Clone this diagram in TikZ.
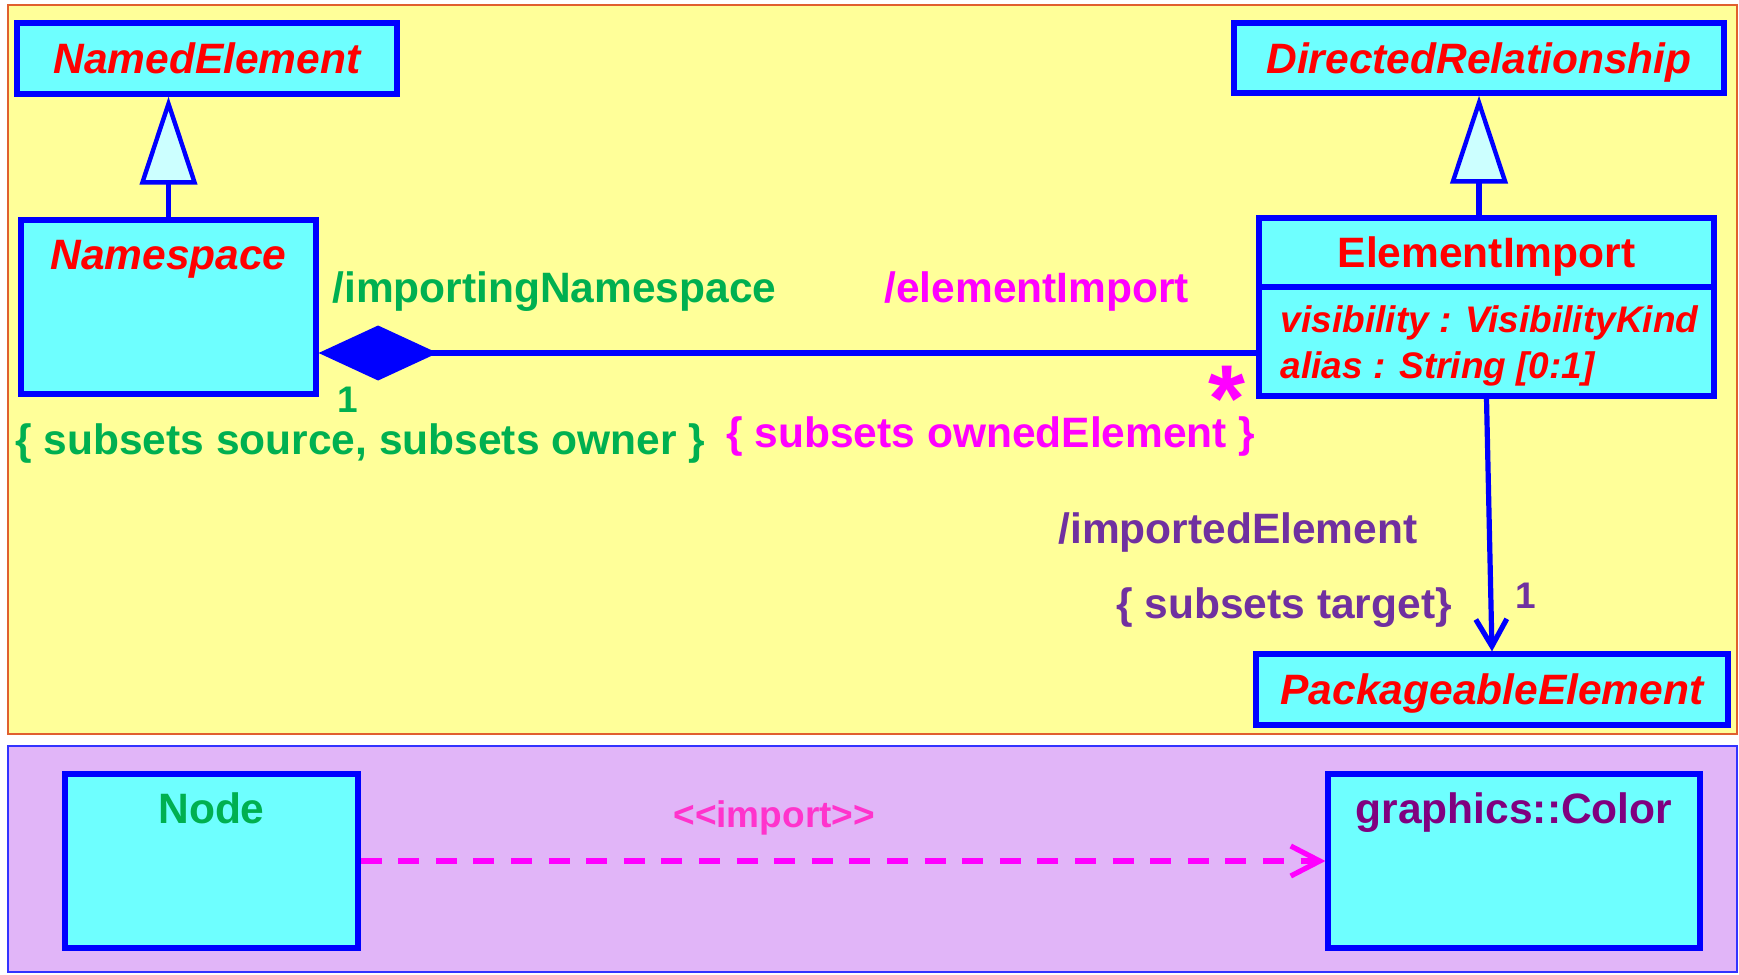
\documentclass[tikz,border=0pt]{standalone}
\usepackage{fontspec}
\setmainfont{Liberation Sans}
\usepackage{tikz}
\usetikzlibrary{
  arrows.meta,
  calc
}
\definecolor{clsfill}{HTML}{6EFFFF}
\definecolor{clsline}{HTML}{0000FF}
\definecolor{trifill}{HTML}{CCFFFF}
\definecolor{pkgyellow}{HTML}{FFFF99}
\definecolor{pkgedge}{HTML}{E0602E}
\definecolor{pkglilac}{HTML}{E1B5F8}
\definecolor{lilacedge}{HTML}{3333FF}
\definecolor{namered}{HTML}{FF0000}
\definecolor{rolegreen}{HTML}{00B050}
\definecolor{rolemagenta}{HTML}{FF00FF}
\definecolor{rolepurple}{HTML}{7030A0}
\definecolor{stereopink}{HTML}{FF33CC}
\definecolor{extpurple}{HTML}{800080}
\newcommand{\bigfont}{\fontsize{21.25}{25}\selectfont\bfseries}
\newcommand{\smallfont}{\fontsize{18.5}{23}\selectfont\bfseries}
\newcommand{\starfont}{\fontsize{47.5}{50}\selectfont\bfseries}
\tikzset{
  clsbox/.style={
    rectangle, draw=clsline, fill=clsfill, line width=2.6pt,
    inner sep=0pt, font=\bigfont, text=namered,
    text height=15.3pt, text depth=0pt
  },
  clstitle/.style={
    anchor=base, inner sep=0pt, font=\bigfont, text=namered
  },
  attr/.style={
    anchor=base west, inner sep=0pt, font=\smallfont\itshape, text=namered
  },
  rolelabel/.style={
    anchor=base west, inner sep=0pt, font=\bigfont, text=#1
  },
  multlabel/.style={
    anchor=base west, inner sep=0pt, font=\smallfont, text=#1
  },
  clsedge/.style={
    line width=2.6pt, draw=clsline
  },
  genarrow/.style={
    clsedge, -{Triangle[fill=trifill, length=44pt, width=28.5pt, line width=2.2pt]}
  },
  compline/.style={
    clsedge, {Diamond[length=59.5pt, width=27.5pt]}-
  },
  navarrow/.style={
    clsedge, -{Straight Barb[length=13.5pt, width=15.5pt]}
  },
  importarrow/.style={
    line width=2.6pt, draw=rolemagenta, dash pattern=on 10.5pt off 8.3pt,
    -{Straight Barb[length=14.5pt, width=15pt]}
  },
}

\begin{document}
\begin{tikzpicture}[x=0.5pt, y=-0.5pt]
  \useasboundingbox (0,0) rectangle (1739,974);

  % package areas
  \filldraw[fill=pkgyellow, draw=pkgedge, line width=1pt] (8,5) rectangle (1737,734);
  \filldraw[fill=pkglilac, draw=lilacedge, line width=0.8pt] (8,746) rectangle (1737,972);

  % metaclasses
  \node[clsbox, minimum width=190pt, minimum height=35.5pt] (ne) at (207,58.5) {\itshape NamedElement};
  \node[clsbox, minimum width=147.5pt, minimum height=87pt] (ns) at (168.5,307) {};
  \node[clstitle] (nst) at ([yshift=-26pt]ns.north) {\itshape Namespace};

  \node[clsbox, minimum width=245pt, minimum height=35pt] (dr) at (1479,58) {\itshape DirectedRelationship};
  \node[clsbox, minimum width=227.5pt, minimum height=89pt] (ei) at (1486.5,307) {};
  \node[clstitle] (eit) at ([yshift=-26pt]ei.north) {ElementImport};
  \draw[clsedge] ([yshift=10pt]ei.west) -- ([yshift=10pt]ei.east);
  \node[attr] (a1) at ([xshift=12pt,yshift=-12.5pt]ei.west) {visibility : VisibilityKind};
  \node[attr] (a2) at ([yshift=-23pt]a1.base west) {alias : String [0:1]};

  \node[clsbox, minimum width=236pt, minimum height=35.5pt] (pe) at (1492,689.5) {\itshape PackageableElement};

  % generalizations and associations
  \draw[genarrow] (ns.north) -- (ns.north |- ne.south);
  \draw[genarrow] (dr.south |- ei.north) -- (dr.south);
  \draw[compline] ([yshift=-23pt]ns.east) -- ([yshift=-23pt]ns.east -| ei.west);
  \draw[navarrow] (ei.south) -- (pe.north);

  \node[rolelabel=rolegreen] (rin) at (332,302) {/importingNamespace};
  \node[rolelabel=rolemagenta] (rei) at (884,302) {/elementImport};
  \node[multlabel=rolegreen] (m1) at (337,412) {1};
  \node[rolelabel=rolegreen] (cin) at (15,454) {\{ subsets source, subsets owner \}};
  \node[rolelabel=rolemagenta] (cei) at (726,447) {\{ subsets ownedElement \}};
  \node[anchor=base west, inner sep=0pt, font=\starfont, text=rolemagenta] (mstar) at (1208,399)
    {\raisebox{-0.337em}[0.31em][0pt]{*}};
  \node[rolelabel=rolepurple] (rie) at (1058,543) {/importedElement};
  \node[rolelabel=rolepurple] (cie) at (1116,618) {\{ subsets target\}};
  \node[multlabel=rolepurple] (m2) at (1515,608) {1};

  % model level
  \node[clsbox, minimum width=146.5pt, minimum height=87pt] (nd) at (211.5,861) {};
  \node[clstitle, text=rolegreen] (ndt) at ([yshift=-26pt]nd.north) {Node};
  \node[clsbox, minimum width=186pt, minimum height=87pt] (gc) at (1514,861) {};
  \node[clstitle, text=extpurple] (gct) at ([yshift=-26pt]gc.north) {graphics::Color};
  \draw[importarrow] (nd.east) -- (gc.west);
  \node[multlabel=stereopink] (imp) at (673,827) {{<}{<}import{>}{>}};
\end{tikzpicture}
\end{document}
